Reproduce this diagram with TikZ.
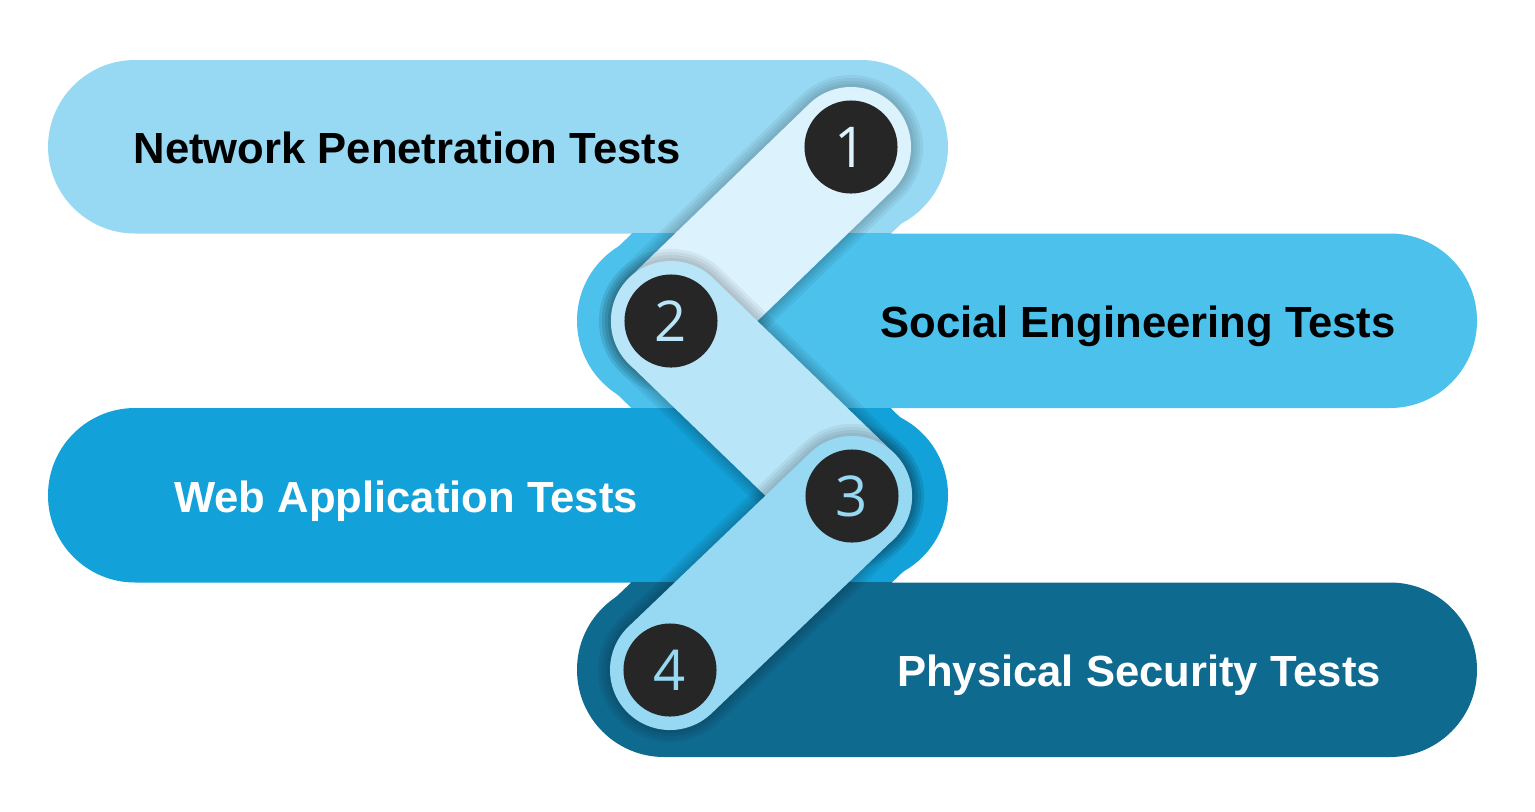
\documentclass[tikz,border=0pt]{standalone}
\usepackage{fontspec}
\setmainfont{Liberation Sans}
\newfontfamily\digitfont{Open Sans}
\usetikzlibrary{backgrounds}
\definecolor{PTSky}  {HTML}{97D9F3}
\definecolor{PTCyan} {HTML}{4CC1EC}
\definecolor{PTBlue} {HTML}{13A1D9}
\definecolor{PTTeal} {HTML}{0F6A90}
\definecolor{PTIce}  {HTML}{DCF2FC}
\definecolor{PTFrost}{HTML}{B8E5F7}
\definecolor{PTInk}  {HTML}{262626}
\tikzset{
  numdot/.style={circle,fill=PTInk,minimum size=0.93cm,inner sep=0pt,
                 font=\digitfont\fontsize{16}{18}\selectfont},
  steplabel/.style={font=\bfseries\fontsize{12.4}{14}\selectfont,anchor=base},
  pillend/.style={line width=1.8cm,line cap=butt},
  linkband/.style={line width=1.2cm,line cap=round},
}

\begin{document}
\begin{tikzpicture}[x=0.01cm,y=-0.01cm]
    \useasboundingbox (0,0) rectangle (1535,811);
    % Numbered dots
    \node[numdot,text=PTIce]   (n1) at (851,147) {1};
    \node[numdot,text=PTFrost] (n2) at (671,321) {2};
    \node[numdot,text=PTSky]   (n3) at (852,496) {3};
    \node[numdot,text=PTSky]   (n4) at (670,670) {4};
    % Labels
    \node[steplabel,text=black] (t1) at (407,163)  {Network Penetration Tests};
    \node[steplabel,text=black] (t2) at (1138,337) {Social Engineering Tests};
    \node[steplabel,text=white] (t3) at (406,512)  {Web Application Tests};
    \node[steplabel,text=white] (t4) at (1139,686) {Physical Security Tests};
    \begin{scope}[on background layer]
      % Pill 1
      \begin{scope}
        \clip (0,60) rectangle (1535,233.5);
        \fill[PTSky,rounded corners=0.87cm] (48,60) rectangle (948,233.5);
        \draw[pillend,PTSky] (n1.center) -- (n2.center);
      \end{scope}
      % Pill 2
      \begin{scope}
        \clip (0,233.5) rectangle (1535,408);
        \fill[PTCyan,rounded corners=0.87cm] (577,233.5) rectangle (1477,408);
        \draw[pillend,PTCyan] (n2.center) -- (n1.center);
        \draw[pillend,PTCyan] (n2.center) -- (n3.center);
      \end{scope}
      % Pill 3
      \begin{scope}
        \clip (0,408) rectangle (1535,582.5);
        \fill[PTBlue,rounded corners=0.87cm] (48,408) rectangle (948,582.5);
        \draw[pillend,PTBlue] (n3.center) -- (n2.center);
        \draw[pillend,PTBlue] (n3.center) -- (n4.center);
      \end{scope}
      % Pill 4
      \begin{scope}
        \clip (0,582.5) rectangle (1535,757);
        \fill[PTTeal,rounded corners=0.87cm] (577,582.5) rectangle (1477,757);
        \draw[pillend,PTTeal] (n4.center) -- (n3.center);
      \end{scope}
      % Link bands with soft shadow
      \foreach \a/\b/\c in {n1/n2/PTIce,n2/n3/PTFrost,n3/n4/PTSky}{
        \foreach \w in {1.44,1.38,1.32,1.26}
          \draw[line width=\w cm,line cap=round,black,opacity=0.05] (\a.center) -- (\b.center);
        \draw[linkband,\c] (\a.center) -- (\b.center);
      }
    \end{scope}
\end{tikzpicture}
\end{document}
